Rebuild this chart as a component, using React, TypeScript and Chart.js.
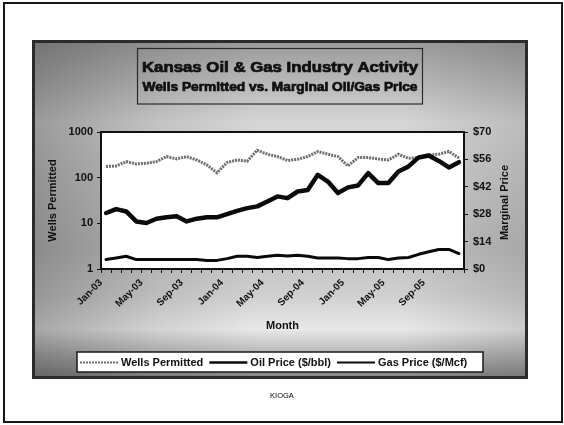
import React, { useEffect, useRef } from "react";
import { Chart, registerables } from "chart.js";

Chart.register(...registerables);

const FONT = '"Liberation Sans", Arial, Helvetica, sans-serif';
const INK = "#111111";

const months = [
  "Jan-03", "Feb-03", "Mar-03", "Apr-03", "May-03", "Jun-03", "Jul-03", "Aug-03", "Sep-03", "Oct-03", "Nov-03", "Dec-03",
  "Jan-04", "Feb-04", "Mar-04", "Apr-04", "May-04", "Jun-04", "Jul-04", "Aug-04", "Sep-04", "Oct-04", "Nov-04", "Dec-04",
  "Jan-05", "Feb-05", "Mar-05", "Apr-05", "May-05", "Jun-05", "Jul-05", "Aug-05", "Sep-05", "Oct-05", "Nov-05", "Dec-05",
];

// Monthly wells permitted (left, log axis)
const wellsPermitted = [
  175, 181, 225, 200, 207, 225, 290, 257, 290, 244, 190, 128,
  215, 244, 230, 400, 326, 290, 237, 253, 290, 373, 326, 290,
  180, 276, 276, 257, 244, 326, 265, 276, 315, 326, 375, 270,
];

// Marginal oil price, $/bbl (right axis)
const oilPrice = [
  28.6, 30.6, 29.4, 24.3, 23.5, 25.7, 26.4, 26.9, 24.3, 25.7, 26.4, 26.4,
  28.0, 29.7, 31.1, 32.0, 34.5, 37.1, 36.2, 39.6, 40.4, 48.1, 44.7, 38.8,
  41.7, 42.7, 49.0, 43.9, 43.9, 49.8, 52.4, 57.0, 58.0, 55.2, 51.9, 54.6,
];

// Marginal gas price, $/Mcf (right axis)
const gasPrice = [
  4.8, 5.6, 6.5, 4.8, 4.8, 4.8, 4.8, 4.8, 4.8, 4.8, 4.4, 4.4,
  5.3, 6.5, 6.5, 5.9, 6.5, 7.0, 6.6, 7.0, 6.5, 5.6, 5.6, 5.6,
  5.3, 5.3, 5.9, 5.9, 4.8, 5.6, 5.9, 7.5, 8.8, 10.0, 10.0, 7.9,
];

const wellTicks = [1, 10, 100, 1000];
const priceMin = 0;
const priceMax = 70;
const priceStep = 14;

const seriesLabels = ["Wells Permitted", "Oil Price ($/bbl)", "Gas Price ($/Mcf)"];
const titleLines = ["Kansas Oil & Gas Industry Activity", "Wells Permitted vs. Marginal Oil/Gas Price"];
const xAxisTitle = "Month";
const leftAxisTitle = "Wells Permitted";
const rightAxisTitle = "Marginal Price";
const sourceNote = "KIOGA";

const CANVAS_W = 490;
const CANVAS_H = 333;

// Heavy, horizontally stretched title text filling a given width
function drawWideText(ctx: CanvasRenderingContext2D, text: string, cx: number, cy: number, width: number, font: string) {
  ctx.save();
  ctx.font = font;
  const natural = ctx.measureText(text).width;
  ctx.translate(cx, cy);
  ctx.scale(width / natural, 1);
  ctx.textAlign = "center";
  ctx.textBaseline = "middle";
  ctx.fillStyle = INK;
  ctx.strokeStyle = INK;
  ctx.lineWidth = 0.7;
  ctx.fillText(text, 0, 0);
  ctx.strokeText(text, 0, 0);
  ctx.restore();
}

// Draws the plot background, the boxed title, the full plot frame,
// the right-hand axis title and the boxed legend.
const chartDecor = {
  id: "chartDecor",
  beforeDraw(chart: any) {
    const { ctx, chartArea: a } = chart;
    ctx.save();
    ctx.fillStyle = "#ffffff";
    ctx.fillRect(a.left, a.top, a.right - a.left, a.bottom - a.top);

    ctx.strokeStyle = "#2a2a2a";
    ctx.lineWidth = 1.2;
    ctx.strokeRect(102.5, 5.5, 285, 55.5);
    ctx.restore();

    drawWideText(ctx, titleLines[0], 245, 25, 276, `bold 14px ${FONT}`);
    drawWideText(ctx, titleLines[1], 245, 45, 275, `bold 12px ${FONT}`);
  },
  afterDraw(chart: any) {
    const { ctx, chartArea: a } = chart;
    ctx.save();
    ctx.strokeStyle = INK;
    ctx.lineWidth = 2;
    ctx.strokeRect(a.left, a.top, a.right - a.left, a.bottom - a.top);

    // right axis title, reading bottom to top
    ctx.save();
    ctx.translate(470, (a.top + a.bottom) / 2 + 2);
    ctx.rotate(-Math.PI / 2);
    ctx.font = `bold 11px ${FONT}`;
    ctx.textAlign = "center";
    ctx.textBaseline = "middle";
    ctx.fillStyle = INK;
    ctx.fillText(rightAxisTitle, 0, 0);
    ctx.restore();

    // legend
    const box = { x: 42, y: 309, w: 406, h: 20 };
    ctx.fillStyle = "#ffffff";
    ctx.fillRect(box.x, box.y, box.w, box.h);
    ctx.strokeStyle = "#1a1a1a";
    ctx.lineWidth = 1.5;
    ctx.strokeRect(box.x, box.y, box.w, box.h);

    ctx.font = `bold 11px ${FONT}`;
    ctx.textAlign = "left";
    ctx.textBaseline = "middle";
    const cy = box.y + box.h / 2 + 0.5;
    let x = box.x + 3;
    chart.data.datasets.forEach((ds: any) => {
      ctx.save();
      ctx.strokeStyle = ds.borderColor;
      ctx.lineWidth = Math.max(1.8, ds.borderWidth * 0.6);
      ctx.setLineDash(ds.borderDash || []);
      ctx.beginPath();
      ctx.moveTo(x, cy);
      ctx.lineTo(x + 38, cy);
      ctx.stroke();
      ctx.restore();
      ctx.fillStyle = INK;
      ctx.fillText(ds.label, x + 41, cy);
      x += 41 + ctx.measureText(ds.label).width + 6;
    });
    ctx.restore();
  },
};

const tickFont = { family: FONT, size: 11, weight: "bold" as const };

export default function App() {
  const canvasRef = useRef<HTMLCanvasElement>(null);

  useEffect(() => {
    const canvas = canvasRef.current;
    if (!canvas) return;
    const chart = new Chart(canvas, {
      type: "line",
      data: {
        labels: months,
        datasets: [
          {
            label: seriesLabels[0],
            data: wellsPermitted,
            yAxisID: "wells",
            borderColor: "#6e6e6e",
            borderWidth: 3,
            borderDash: [2, 1],
            pointRadius: 0,
            tension: 0,
            order: 3,
          },
          {
            label: seriesLabels[1],
            data: oilPrice,
            yAxisID: "price",
            borderColor: "#0a0a0a",
            borderWidth: 4.5,
            borderJoinStyle: "round",
            borderCapStyle: "round",
            pointRadius: 0,
            tension: 0,
            order: 1,
          },
          {
            label: seriesLabels[2],
            data: gasPrice,
            yAxisID: "price",
            borderColor: "#0a0a0a",
            borderWidth: 3,
            borderJoinStyle: "round",
            borderCapStyle: "round",
            pointRadius: 0,
            tension: 0,
            order: 2,
          },
        ],
      },
      options: {
        responsive: false,
        animation: false,
        devicePixelRatio: 1,
        layout: { padding: { left: 11, right: 0, top: 89, bottom: 43 } },
        plugins: {
          legend: { display: false },
          tooltip: { enabled: false },
          title: { display: false },
        },
        scales: {
          x: {
            type: "category",
            offset: true,
            grid: {
              display: true,
              drawOnChartArea: false,
              drawTicks: true,
              tickLength: 4,
              color: INK,
              offset: true,
            },
            border: { display: false },
            ticks: {
              autoSkip: false,
              maxRotation: 45,
              minRotation: 45,
              padding: 4,
              labelOffset: -5,
              color: INK,
              font: { family: FONT, size: 10, weight: "bold" },
              callback: (_v: any, i: number) => (i % 4 === 0 ? months[i] : ""),
            },
            title: {
              display: true,
              text: xAxisTitle,
              color: INK,
              padding: 0,
              font: { family: FONT, size: 11, weight: "bold" },
            },
            afterFit: (s: any) => {
              s.height = 64;
            },
          },
          wells: {
            type: "logarithmic",
            position: "left",
            min: wellTicks[0],
            max: wellTicks[wellTicks.length - 1],
            afterBuildTicks: (s: any) => {
              s.ticks = wellTicks.map((v) => ({ value: v }));
            },
            grid: { drawOnChartArea: false, drawTicks: true, tickLength: 4, color: INK },
            border: { display: false },
            ticks: {
              color: INK,
              padding: 4,
              font: tickFont,
              callback: (v: any) => String(v),
            },
            title: {
              display: true,
              text: leftAxisTitle,
              color: INK,
              padding: 0,
              font: { family: FONT, size: 11, weight: "bold" },
            },
            afterFit: (s: any) => {
              s.width = 55;
            },
          },
          price: {
            type: "linear",
            position: "right",
            min: priceMin,
            max: priceMax,
            grid: { drawOnChartArea: false, drawTicks: true, tickLength: 4, color: INK },
            border: { display: false },
            ticks: {
              stepSize: priceStep,
              color: INK,
              padding: 5,
              font: tickFont,
              callback: (v: any) => "$" + v,
            },
            afterFit: (s: any) => {
              s.width = 61;
            },
          },
        },
      },
      plugins: [chartDecor],
    } as any);
    return () => chart.destroy();
  }, []);

  const panelBg =
    "linear-gradient(90deg, rgba(30,30,30,0.32) 0%, rgba(30,30,30,0.1) 25%, rgba(30,30,30,0) 45%, rgba(30,30,30,0) 75%, rgba(30,30,30,0.14) 100%)," +
    "linear-gradient(180deg, #9c9c9c 0%, #b8b8b8 12%, #d6d6d6 24%, #cbcbcb 40%, #bfbfbf 62%, #d0d0d0 76%, #e8e8e8 86%, #b0b0b0 94%, #888888 100%)";

  return (
    <div
      style={{
        position: "fixed",
        left: 0,
        top: 0,
        width: 564,
        height: 425,
        background: "#ffffff",
        overflow: "hidden",
      }}
    >
      <div
        style={{
          position: "absolute",
          left: 3,
          top: 2,
          width: 556,
          height: 417,
          border: "2px solid #161616",
        }}
      />
      <div
        style={{
          position: "absolute",
          left: 32,
          top: 40,
          width: CANVAS_W,
          height: CANVAS_H,
          border: "3px solid #2b2b2b",
          background: panelBg,
        }}
      >
        <canvas
          ref={canvasRef}
          width={CANVAS_W}
          height={CANVAS_H}
          style={{ display: "block", width: CANVAS_W, height: CANVAS_H }}
        />
      </div>
      <div
        style={{
          position: "absolute",
          left: 232,
          top: 391,
          width: 100,
          textAlign: "center",
          fontFamily: FONT,
          fontSize: 7.5,
          color: "#000000",
          opacity: 0.999,
          willChange: "transform",
        }}
      >
        {sourceNote}
      </div>
    </div>
  );
}
